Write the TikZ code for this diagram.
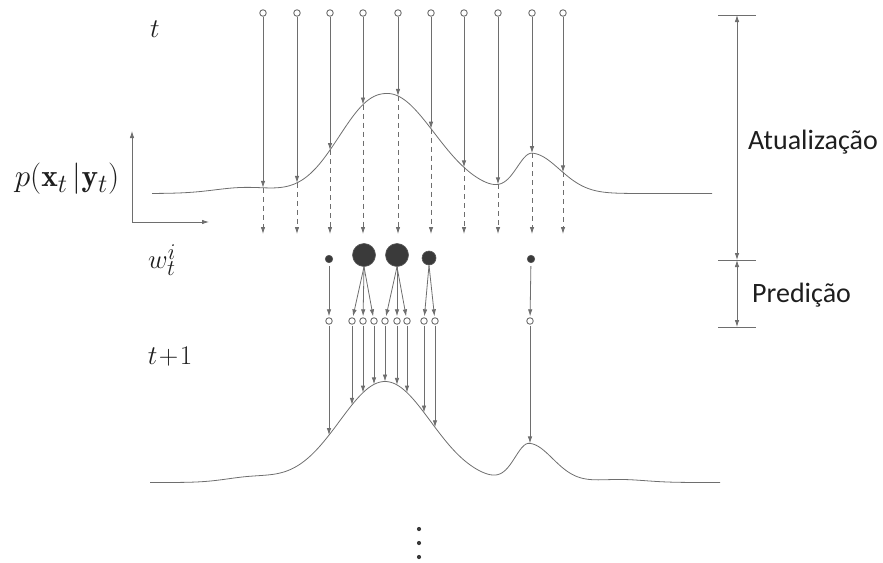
\documentclass[tikz,border=0pt]{standalone}
\usepackage{fontspec}
\usepackage{graphicx}
\newfontfamily\calfont{Carlito}
\usetikzlibrary{arrows.meta}
\definecolor{ln}{HTML}{6E6E6E}
\definecolor{wt}{HTML}{3A3A3A}
\definecolor{txt}{HTML}{1E1E1E}
\newcommand{\mylbl}[2][1.085]{\scalebox{#1}{#2}}
\begin{document}
\begin{tikzpicture}[x=1pt,y=-1pt,
  declare function={
    gs(\d)=exp(-min(0.5*\d*\d,12));
    gp(\d)=exp(-min(0.5*abs(\d)^2.3,12));
    fone(\x)=193.5-100*ifthenelse(\x<387.5,gp((\x-387.5)/46),gs((\x-387.5)/46.7))
             -39.5*gs((\x-532)/ifthenelse(\x<532,15,27.6))
             -6*gs((\x-245)/30);
    ftwo(\x)=482.5-101*gs((\x-385)/45.5)
             -38.5*gs((\x-529)/ifthenelse(\x<529,14,24))
             -5*gs((\x-250)/25)-3*gs((\x-620)/25);
  },
  line/.style={draw=ln, line width=0.8pt},
  tip/.style={-{Latex[length=7pt,width=4.5pt]}},
  twotip/.style={{Latex[length=7pt,width=4.5pt]}-{Latex[length=7pt,width=4.5pt]}},
  dline/.style={line, dash pattern=on 5pt off 4pt},
  part/.style={circle, draw=ln, line width=0.9pt, fill=white, inner sep=0pt, minimum size=6.5pt},
  wgt/.style={circle, fill=wt, draw=wt!85!white, line width=0.6pt, inner sep=0pt, minimum size=#1},
  lbl/.style={font=\fontsize{24.88}{28}\selectfont, text=txt, inner sep=0pt},
  plbl/.style={font=\calfont\fontsize{28}{32}\selectfont, text=txt, inner sep=0pt}
]
\useasboundingbox (0,0) rectangle (883,562);

% labels
\node[lbl] (lt) at (155,29) {\mylbl{$t$}};
\node[lbl] (lp) at (67,179) {\mylbl[1.26]{$p(\mathbf{x}_t\,|\mathbf{y}_t)$}};
\node[lbl] (lw) at (162,260) {\mylbl{$w_t^i$}};
\node[lbl] (lt1) at (170,357) {\mylbl{$t\!+\!1$}};

% axes
\coordinate (o) at (132,222);
\coordinate (ay) at (132,131);
\coordinate (ax) at (209,222);
\draw[line,tip] (o) -- (ay);
\draw[line,tip] (o) -- (ax);

% curve 1
\draw[line] plot[domain=152:712, samples=281] (\x,{fone(\x)});

% top particles
\foreach \i/\x in {0/263,1/297,2/330,3/363,4/398,5/431,6/464,7/498,8/532,9/563}{
  \node[part] (p\i) at (\x,13) {};
  \coordinate (c\i) at (\x,{fone(\x)});
  \coordinate (d\i) at (\x,234);
  \draw[line,tip] (p\i) -- (c\i);
  \draw[dline,tip] (c\i) -- (d\i);
}

% weights
\node[wgt=7.5pt] (w1) at (329,259) {};
\node[wgt=23pt]  (w2) at (364,255) {};
\node[wgt=23pt]  (w3) at (397,255) {};
\node[wgt=14pt]  (w4) at (429,258) {};
\node[wgt=7.5pt] (w5) at (531,259) {};

% resampled particles
\foreach \i/\x in {1/329,2/352,3/363,4/374,5/385,6/397,7/407,8/424,9/435,10/530}{
  \node[part] (r\i) at (\x,321) {};
  \coordinate (e\i) at (\x,{ftwo(\x)});
  \draw[line,tip,shorten <=1pt] (r\i) -- (e\i);
}
\draw[line,tip,shorten <=3pt,shorten >=1pt] (w1) -- (r1);
\foreach \j in {2,3,4}{\draw[line,tip,shorten >=1pt] (w2.south) -- (r\j);}
\foreach \j in {5,6,7}{\draw[line,tip,shorten >=1pt] (w3.south) -- (r\j);}
\foreach \j in {8,9}{\draw[line,tip,shorten >=1pt] (w4.south) -- (r\j);}
\draw[line,tip,shorten <=3pt,shorten >=1pt] (w5) -- (r10);

% curve 2
\draw[line] plot[domain=150:720, samples=286] (\x,{ftwo(\x)});

% dots
\foreach \y in {529,543,557}{\fill[wt] (419,\y) circle (2.1pt);}

% right bracket
\coordinate (b1) at (737,15);
\coordinate (b2) at (737,260);
\coordinate (b3) at (737,327);
\foreach \b in {b1,b2,b3}{\draw[line] ([xshift=-19pt]\b) -- ([xshift=19pt]\b);}
\draw[line,twotip] (b1) -- (b2);
\draw[line,twotip] (b2) -- (b3);
\node[plbl, anchor=west] (atu) at (748,142) {Atualização};
\node[plbl, anchor=west] (pred) at (752,295) {Predição};
\end{tikzpicture}
\end{document}
